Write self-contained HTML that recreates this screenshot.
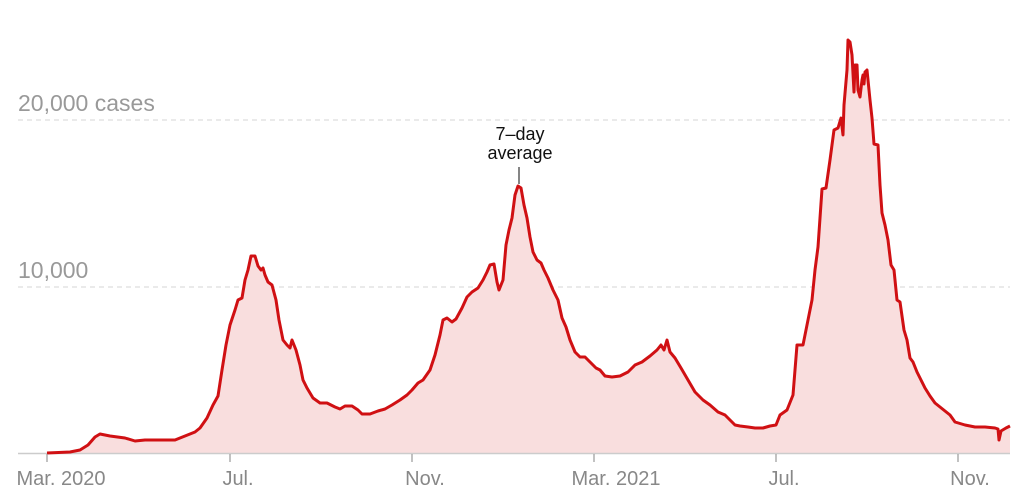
<!DOCTYPE html>
<html><head><meta charset="utf-8"><style>
html,body{margin:0;padding:0;background:#fff;}
svg{display:block;font-family:"Liberation Sans",sans-serif;}
</style></head><body>
<svg width="1022" height="495" viewBox="0 0 1022 495">
<g stroke="#ddd" stroke-width="1.2" stroke-dasharray="5,4">
<line x1="18" y1="120" x2="1010" y2="120"/>
<line x1="18" y1="287" x2="1010" y2="287"/>
</g>
<text x="18" y="111" font-size="23" fill="#999">20,000 cases</text>
<text x="18" y="278" font-size="23" fill="#999">10,000</text>
<path fill="#f9dede" stroke="none" d="M47,453 L70,452 80,450 88,445 95,437 100,434 110,436 125,438 135,441 145,440 160,440 175,440 185,436 195,432 200,428 207,418 213,405 218,396 222,370 226,345 230,325 235,310 238,300 242,298 245,280 248,270 251,256 255,256 258,266 261,270 263,268 265,275 268,282 272,285 276,300 279,320 283,340 287,345 290,348 292,340 296,350 300,365 303,380 307,388 313,398 320,403 327,403 335,407 340,409 345,406 352,406 358,410 362,414 370,414 378,411 385,409 392,405 400,400 407,395 412,390 418,383 423,380 430,370 435,355 440,335 443,320 447,318 452,322 456,319 462,308 467,297 472,292 478,288 483,280 487,272 490,265 494,264 497,282 499,290 503,280 506,245 509,230 512,218 515,195 518,186 521,188 524,205 527,218 530,237 533,252 537,260 541,263 544,270 548,278 553,290 558,300 562,318 566,327 570,340 575,352 580,357 585,357 590,362 596,368 600,370 605,376 612,377 620,376 628,372 635,365 642,362 650,356 657,350 661,345 664,350 667,340 670,352 675,358 681,368 688,380 695,392 703,400 710,405 718,412 725,415 730,420 735,425 740,426 748,427 755,428 763,428 770,426 776,425 780,415 787,410 793,395 797,345 803,345 808,320 812,300 815,270 818,247 822,189 826,188 830,160 834,130 838,128 841,118 843,135 844,105 847,70 848,40 850,42 852,55 854,92 855,65 857,65 858,90 860,97 862,80 863,75 864,84 865,72 867,70 868,80 870,100 872,118 874,144 878,145 880,185 882,213 885,225 888,240 891,265 894,270 897,300 900,302 904,330 907,340 910,358 913,362 917,372 921,380 925,388 930,396 935,403 940,407 945,411 950,415 955,422 965,425 975,427 985,427 995,428 998,429 999,440 1001,431 1006,428 1010,426 L1010,453 Z"/>
<line x1="18" y1="453.5" x2="1010" y2="453.5" stroke="#ccc" stroke-width="1.5"/>
<polyline fill="none" stroke="#d01013" stroke-width="3" stroke-linejoin="round" points="47,453 70,452 80,450 88,445 95,437 100,434 110,436 125,438 135,441 145,440 160,440 175,440 185,436 195,432 200,428 207,418 213,405 218,396 222,370 226,345 230,325 235,310 238,300 242,298 245,280 248,270 251,256 255,256 258,266 261,270 263,268 265,275 268,282 272,285 276,300 279,320 283,340 287,345 290,348 292,340 296,350 300,365 303,380 307,388 313,398 320,403 327,403 335,407 340,409 345,406 352,406 358,410 362,414 370,414 378,411 385,409 392,405 400,400 407,395 412,390 418,383 423,380 430,370 435,355 440,335 443,320 447,318 452,322 456,319 462,308 467,297 472,292 478,288 483,280 487,272 490,265 494,264 497,282 499,290 503,280 506,245 509,230 512,218 515,195 518,186 521,188 524,205 527,218 530,237 533,252 537,260 541,263 544,270 548,278 553,290 558,300 562,318 566,327 570,340 575,352 580,357 585,357 590,362 596,368 600,370 605,376 612,377 620,376 628,372 635,365 642,362 650,356 657,350 661,345 664,350 667,340 670,352 675,358 681,368 688,380 695,392 703,400 710,405 718,412 725,415 730,420 735,425 740,426 748,427 755,428 763,428 770,426 776,425 780,415 787,410 793,395 797,345 803,345 808,320 812,300 815,270 818,247 822,189 826,188 830,160 834,130 838,128 841,118 843,135 844,105 847,70 848,40 850,42 852,55 854,92 855,65 857,65 858,90 860,97 862,80 863,75 864,84 865,72 867,70 868,80 870,100 872,118 874,144 878,145 880,185 882,213 885,225 888,240 891,265 894,270 897,300 900,302 904,330 907,340 910,358 913,362 917,372 921,380 925,388 930,396 935,403 940,407 945,411 950,415 955,422 965,425 975,427 985,427 995,428 998,429 999,440 1001,431 1006,428 1010,426"/>
<line x1="519" y1="167" x2="519" y2="184" stroke="#333" stroke-width="1.2"/>
<text x="520" y="140" font-size="18" fill="#111" text-anchor="middle">7–day</text>
<text x="520" y="159" font-size="18" fill="#111" text-anchor="middle">average</text>
<g stroke="#999" stroke-width="1.2">
<line x1="47" y1="454" x2="47" y2="462"/><line x1="230" y1="454" x2="230" y2="462"/>
<line x1="412" y1="454" x2="412" y2="462"/><line x1="594" y1="454" x2="594" y2="462"/>
<line x1="776" y1="454" x2="776" y2="462"/><line x1="958" y1="454" x2="958" y2="462"/>
</g>
<g font-size="20" fill="#888" text-anchor="middle">
<text x="61" y="485">Mar. 2020</text><text x="238" y="485">Jul.</text>
<text x="425" y="485">Nov.</text><text x="616" y="485">Mar. 2021</text>
<text x="784" y="485">Jul.</text><text x="970" y="485">Nov.</text>
</g>
</svg>
</body></html>
